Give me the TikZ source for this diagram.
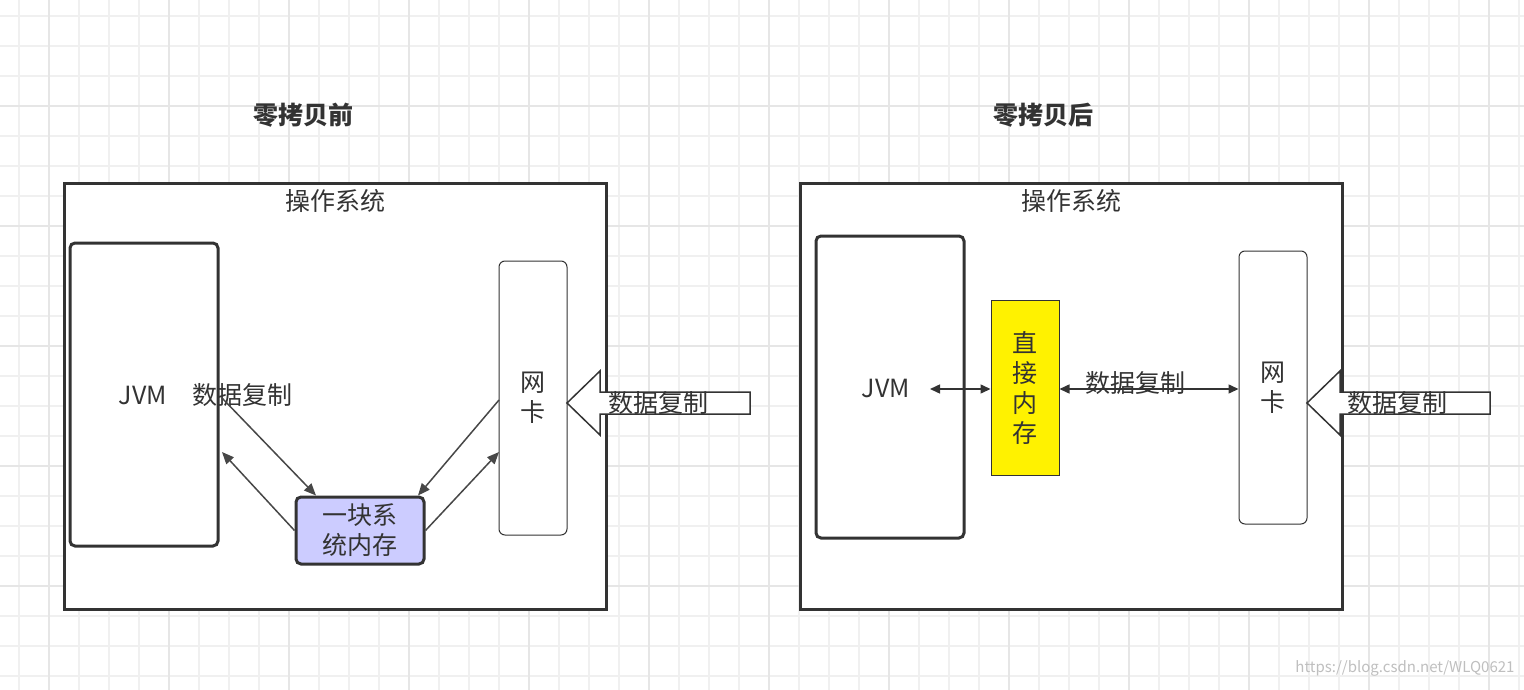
\documentclass[tikz,border=0pt]{standalone}
\usepackage{fontspec}
\setmainfont{Noto Sans CJK SC}
\usetikzlibrary{arrows.meta}
\definecolor{dk}{HTML}{333333}
\definecolor{gridc}{HTML}{F0F0F0}
\definecolor{gridm}{HTML}{E6E6E6}
\definecolor{memblue}{HTML}{CCCCFF}
\begin{document}
\begin{tikzpicture}[x=1pt,y=-1pt,
    txt/.style={font=\fontsize{25}{30}\selectfont, text=dk, align=center, inner sep=0},
    osbox/.style={draw=dk, line width=3pt},
    thickbox/.style={draw=dk, line width=3pt, rounded corners=5pt},
    thinbox/.style={draw=dk, line width=1pt, rounded corners=6pt},
    arr/.style={-{Triangle[length=12pt,width=10pt]}, draw=dk!90, line width=1.5pt},
    darr/.style={{Triangle[length=10pt,width=9pt]}-{Triangle[length=10pt,width=9pt]}, draw=dk, line width=1.5pt},
    hollow/.style={draw=dk, line width=1.5pt, fill=white}
]
\useasboundingbox (0,0) rectangle (1524,690);
\fill[white] (0,0) rectangle (1524,690);
% grid
\foreach \i in {0,...,50} \draw[gridc, line width=1.5pt] (19+30*\i,0) -- (19+30*\i,690);
\foreach \i in {0,...,23} \draw[gridc, line width=1.5pt] (0,16+30*\i) -- (1524,16+30*\i);
\foreach \i in {0,...,12} \draw[gridm, line width=1.5pt] (49+120*\i,0) -- (49+120*\i,690);
\foreach \i in {0,...,5} \draw[gridm, line width=1.5pt] (0,106+120*\i) -- (1524,106+120*\i);

% ---- left: before zero copy
\node[txt, font=\fontsize{25}{30}\selectfont\bfseries] (t1) at (303,115) {零拷贝前};
\draw[osbox, fill=white] (64,184) rectangle (606,609);
\node[txt] (os1) at (335,201) {操作系统};
\node[thickbox, minimum width=148pt, minimum height=303pt] (jvm1) at (144,394.5) {};
\node[txt] at (143,395) {JVM};
\node[txt] (lbl1) at (242,395) {数据复制};
\node[thinbox, minimum width=68pt, minimum height=274pt, txt] (nic1) at (533,398) {网\\卡};
\node[thickbox, fill=memblue, minimum width=128pt, minimum height=67pt, txt] (mem) at (360,530.5) {一块系\\统内存};
\coordinate (j1a) at (222,398);
\coordinate (j1b) at (222,452);
\coordinate (n1a) at (499,400);
\coordinate (n1b) at (499,452);
\draw[arr] (j1a) -- (mem.north west -| 316,0) ;
\draw[arr] (mem.west) -- (j1b);
\draw[arr] (n1a) -- (mem.north east -| 418,0);
\draw[arr] (mem.east) -- (n1b);
% hollow arrow
\draw[hollow] (750,392) -- (600,392) -- (600,371) -- (567,403) -- (600,435) -- (600,414) -- (750,414) -- cycle;
\node[txt] (lbl2) at (658,403) {数据复制};

% ---- right: after zero copy
\node[txt, font=\fontsize{25}{30}\selectfont\bfseries] (t2) at (1043,115) {零拷贝后};
\draw[osbox, fill=white] (800,184) rectangle (1342,609);
\node[txt] (os2) at (1071,201) {操作系统};
\node[thickbox, minimum width=148pt, minimum height=302pt] (jvm2) at (890,387) {};
\node[txt] at (886,388) {JVM};
\coordinate (j2) at (930,389);
\node[draw=dk, line width=1pt, fill=yellow, minimum width=68pt, minimum height=175pt, txt, font=\fontsize{25}{30}\selectfont] (dm) at (1025,387.5) {直\\接\\内\\存};
\node[thinbox, minimum width=68pt, minimum height=273pt, txt] (nic2) at (1273,387.5) {网\\卡};
\draw[darr] (j2) -- (dm.west |- 0,389);
\draw[darr] (dm.east |- 0,389) -- (nic2.west |- 0,389);
\node[txt] (lbl3) at (1135,383) {数据复制};
\draw[hollow] (1490,392) -- (1340,392) -- (1340,371) -- (1307,403) -- (1340,435) -- (1340,414) -- (1490,414) -- cycle;
\node[txt] (lbl4) at (1397,403) {数据复制};

\node[font=\fontsize{15}{18}\selectfont, text=black!25, anchor=east] (wm) at (1518,668) {https://blog.csdn.net/WLQ0621};
\end{tikzpicture}
\end{document}
